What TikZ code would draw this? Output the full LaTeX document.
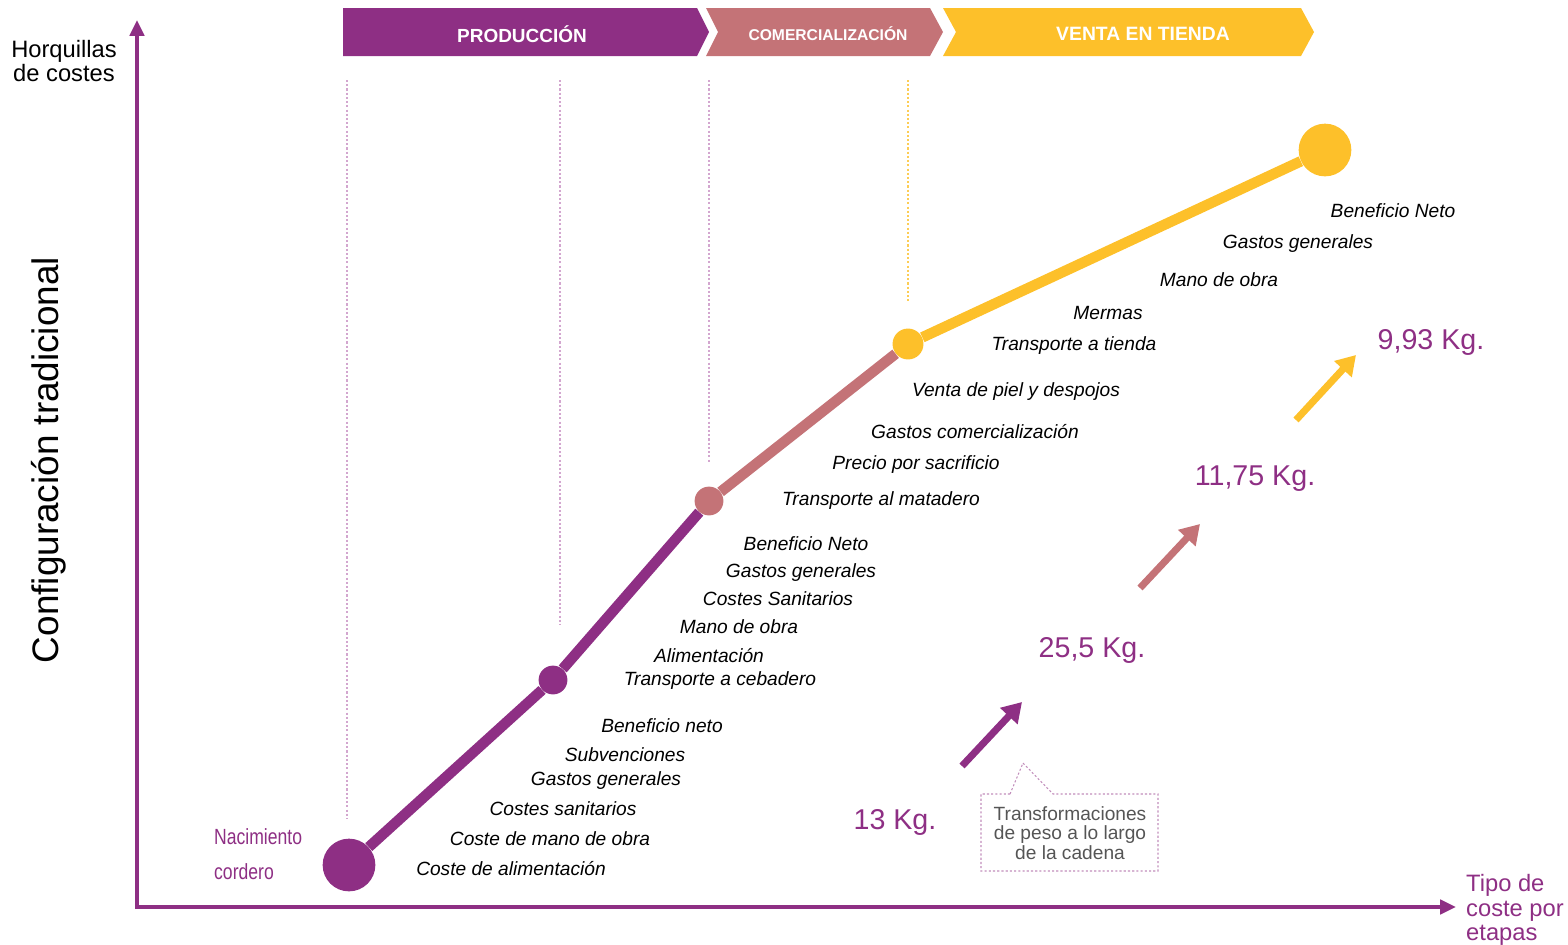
\documentclass[tikz,border=0pt]{standalone}
\usepackage{fontspec}
\setmainfont{Liberation Sans}
\newfontfamily\narrowfont[FakeStretch=0.8]{Liberation Sans}
\usetikzlibrary{arrows.meta}
\definecolor{cpurple}{HTML}{8E2F84}
\definecolor{crose}{HTML}{C47377}
\definecolor{cyellow}{HTML}{FDC02A}
\definecolor{cdot}{HTML}{D3A6CF}
\definecolor{cgray}{HTML}{555555}
\tikzset{
  banner/.style={fill=#1,draw=none},
  bantext/.style={text=white,font=\bfseries\fontsize{10.8}{12}\selectfont},
  guide/.style={draw=cdot,line width=0.6pt,dash pattern=on 1.2pt off 1.2pt},
  pathline/.style={line width=6pt,draw=#1},
  dot/.style={circle,fill=#1,inner sep=0pt,draw=none},
  cost/.style={font=\itshape\fontsize{10.9}{12}\selectfont,text=black},
  weight/.style={font=\fontsize{16.3}{18}\selectfont,text=cpurple},
  warrow/.style={line width=4pt,draw=#1,-{Triangle[length=11pt,width=13pt]}},
  axis/.style={line width=2.3pt,draw=cpurple,-{Triangle[length=9pt,width=8pt]}}
}
\begin{document}
\begin{tikzpicture}[x={(0.02cm,0)},y={(0,-0.02cm)}]
\useasboundingbox (0,0) rectangle (1568,944);
% banners
\fill[banner=cpurple] (343,8) -- (697,8) -- (709,32) -- (697,56) -- (343,56) -- cycle;
\fill[banner=crose] (706,8) -- (930,8) -- (943,32) -- (930,56) -- (706,56) -- (718,32) -- cycle;
\fill[banner=cyellow] (943,8) -- (1301,8) -- (1314,32) -- (1301,56) -- (943,56) -- (956,32) -- cycle;
\node[bantext] (bprod) at (522,34) {PRODUCCIÓN};
\node[bantext,font=\bfseries\fontsize{8.9}{10}\selectfont] (bcom) at (828,34) {COMERCIALIZACIÓN};
\node[bantext,font=\bfseries\fontsize{11}{12}\selectfont] (bvent) at (1143,34) {VENTA EN TIENDA};
% guide lines
\draw[guide] (347,80) -- (347,818);
\draw[guide] (560,80) -- (560,625);
\draw[guide] (709,80) -- (709,462);
\draw[guide,draw=cyellow!80!white] (908,80) -- (908,303);
% axes
\coordinate (o) at (137,907);
\coordinate (ytop) at (137,20);
\coordinate (xend) at (1456,907);
\draw[axis] (137,909) -- (ytop);
\draw[axis] (135,907) -- (xend);
% axis labels
\node[font=\fontsize{13.5}{14}\selectfont,align=center] (ylab) at (64,61) {Horquillas\\de costes};
\node[font=\fontsize{21}{24}\selectfont,rotate=90] (conf) at (49,460) {Configuración tradicional};
\node[font=\fontsize{13.5}{13.9}\selectfont,text=cpurple,align=left,anchor=west] (xlab) at (1460,910) {Tipo de\\coste por\\etapas};
\node[font=\narrowfont\fontsize{12.5}{19.8}\selectfont,text=cpurple,align=left,anchor=west] (nac) at (208,854) {Nacimiento\\cordero};
% path points
\node[dot=cpurple,minimum size=30pt] (p0) at (349,865) {};
\node[dot=cpurple,minimum size=16.4pt] (p1) at (553,680) {};
\node[dot=crose,minimum size=16.4pt] (p2) at (709,501) {};
\node[dot=cyellow,minimum size=17.6pt] (p3) at (908,344) {};
\node[dot=cyellow,minimum size=30pt] (p4) at (1325,150) {};
\draw[pathline=cpurple] (p0) -- (p1);
\draw[pathline=cpurple] (p1) -- (p2);
\draw[pathline=crose] (p2) -- (p3);
\draw[pathline=cyellow] (p3) -- (p4);
% cost labels
\node[cost] (l1) at (1393,211) {Beneficio Neto};
\node[cost] (l2) at (1298,244) {Gastos generales};
\node[cost] (l3) at (1219,280) {Mano de obra};
\node[cost] (l4) at (1108,313) {Mermas};
\node[cost] (l5) at (1074,346) {Transporte a tienda};
\node[cost] (l6) at (1016,392) {Venta de piel y despojos};
\node[cost] (l7) at (975,432) {Gastos comercialización};
\node[cost] (l8) at (916,465) {Precio por sacrificio};
\node[cost] (l9) at (881,501) {Transporte al matadero};
\node[cost] (l10) at (806,544) {Beneficio Neto};
\node[cost] (l11) at (801,573) {Gastos generales};
\node[cost] (l12) at (778,599) {Costes Sanitarios};
\node[cost] (l13) at (739,627) {Mano de obra};
\node[cost] (l14) at (709,656) {Alimentación};
\node[cost] (l15) at (720,681) {Transporte a cebadero};
\node[cost] (l16) at (662,726) {Beneficio neto};
\node[cost] (l17) at (625,755) {Subvenciones};
\node[cost] (l18) at (606,781) {Gastos generales};
\node[cost] (l19) at (563,809) {Costes sanitarios};
\node[cost] (l20) at (550,839) {Coste de mano de obra};
\node[cost] (l21) at (511,869) {Coste de alimentación};
% weights
\node[weight] (w1) at (895,822) {13 Kg.};
\node[weight] (w2) at (1092,650) {25,5 Kg.};
\node[weight] (w3) at (1255,479) {11,75 Kg.};
\node[weight] (w4) at (1431,342) {9,93 Kg.};
% arrows
\coordinate (a1s) at (962,766); \coordinate (a1e) at (1022,702);
\coordinate (a2s) at (1140,588); \coordinate (a2e) at (1200,524);
\coordinate (a3s) at (1296,420); \coordinate (a3e) at (1356,355);
\draw[warrow=cpurple] (a1s) -- (a1e);
\draw[warrow=crose] (a2s) -- (a2e);
\draw[warrow=cyellow] (a3s) -- (a3e);
% callout
\draw[guide,draw=cpurple!55!white] (1010,794) -- (1023,763) -- (1053,794) -- (1158,794) -- (1158,871) -- (981,871) -- (981,794) -- cycle;
\node[font=\fontsize{10.9}{11.2}\selectfont,text=cgray,align=center] (call) at (1070,833) {Transformaciones\\de peso a lo largo\\de la cadena};
\end{tikzpicture}
\end{document}
